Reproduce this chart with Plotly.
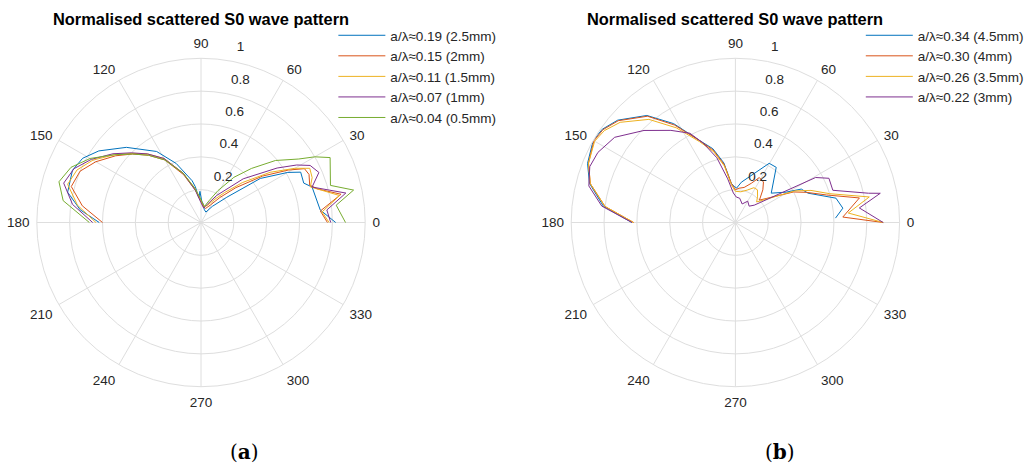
import plotly.graph_objects as go

# ---------------- data ----------------
COLORS = ["#0072BD", "#D95319", "#EDB120", "#7E2F8E", "#77AC30"]
TITLE = "Normalised scattered S0 wave pattern"
ANG_TICKS = list(range(0, 360, 30))
R_TICKS = [0.2, 0.4, 0.6, 0.8, 1]
R_TICK_TEXT = ["0.2", "0.4", "0.6", "0.8", "1"]

# panel (a)
labels_a = ["a/λ≈0.19 (2.5mm)", "a/λ≈0.15 (2mm)", "a/λ≈0.11 (1.5mm)",
            "a/λ≈0.07 (1mm)", "a/λ≈0.04 (0.5mm)"]

a019_theta = [0, 6, 17.7, 21, 26.8, 30, 36.6, 44.4, 55, 65, 75, 85, 88, 92, 95, 99,
              102, 112.8, 122, 134.8, 145, 151.5, 157.9, 167.2, 174, 180]
a019_r = [0.82, 0.73, 0.71, 0.67, 0.68, 0.61, 0.45, 0.22, 0.12, 0.07, 0.08, 0.12, 0.13, 0.19, 0.15, 0.22,
          0.26, 0.39, 0.51, 0.645, 0.76, 0.82, 0.845, 0.833, 0.74, 0.62]

a015_theta = [0, 5.5, 11.4, 16, 19, 24, 27.5, 31, 37, 45, 53, 62, 72, 82, 92, 100,
              110, 120, 128, 135, 142, 150, 157, 164.5, 172, 180]
a015_r = [0.77, 0.73, 0.87, 0.74, 0.70, 0.72, 0.71, 0.62, 0.47, 0.30, 0.19, 0.12, 0.09, 0.10, 0.14, 0.20,
          0.31, 0.44, 0.52, 0.59, 0.66, 0.74, 0.80, 0.82, 0.73, 0.60]

a011_theta = [0, 5, 11, 15, 18, 22, 26.5, 30, 36, 44, 52, 60, 70, 80, 90, 100,
              110, 120, 128, 135, 142, 150, 157, 164, 172, 180]
a011_r = [0.78, 0.74, 0.86, 0.76, 0.70, 0.73, 0.74, 0.66, 0.52, 0.35, 0.23, 0.16, 0.11, 0.10, 0.13, 0.21,
          0.32, 0.45, 0.53, 0.595, 0.67, 0.76, 0.82, 0.845, 0.76, 0.64]

a007_theta = [0, 5.7, 11.5, 17.7, 23, 27.6, 31, 35.6, 46, 60, 70, 80, 90, 100,
              110, 120, 128, 135, 142, 150, 157, 164, 172, 180]
a007_r = [0.79, 0.77, 0.90, 0.71, 0.78, 0.75, 0.68, 0.57, 0.37, 0.19, 0.12, 0.09, 0.12, 0.20,
          0.32, 0.45, 0.53, 0.60, 0.68, 0.77, 0.84, 0.87, 0.79, 0.66]

a004_theta = [0, 7.3, 12, 16, 26.7, 30, 33, 39.8, 47, 54, 62, 70, 78, 86, 92, 100,
              110, 120, 128, 135, 142, 150, 157, 164, 171, 180]
a004_r = [0.88, 0.83, 0.95, 0.82, 0.88, 0.80, 0.71, 0.59, 0.45, 0.34, 0.22, 0.14, 0.10, 0.12, 0.15, 0.21,
          0.32, 0.44, 0.52, 0.59, 0.67, 0.78, 0.86, 0.90, 0.85, 0.68]

# panel (b)
labels_b = ["a/λ≈0.34 (4.5mm)", "a/λ≈0.30 (4mm)", "a/λ≈0.26 (3.5mm)", "a/λ≈0.22 (3mm)"]

b034_theta = [2.5, 7.6, 13.6, 22, 26.9, 30.9, 39.3, 53.5, 60.3, 81.6, 88, 92, 96, 101,
              107, 113.6, 122, 129.6, 139, 145, 150, 158.2, 165, 173, 180]
b034_r = [0.61, 0.66, 0.63, 0.477, 0.45, 0.36, 0.282, 0.418, 0.415, 0.248, 0.21, 0.22, 0.24, 0.37,
          0.47, 0.545, 0.71, 0.846, 0.95, 0.99, 1.0, 0.97, 0.92, 0.81, 0.63]

b030_theta = [0, 2.9, 11.2, 16.8, 23, 27.7, 43, 50, 55.3, 62, 67.9, 76, 84, 90, 96, 101,
              107, 114, 122, 129.6, 139, 145, 150, 158, 165, 173, 180]
b030_r = [0.90, 0.655, 0.77, 0.58, 0.47, 0.40, 0.20, 0.26, 0.30, 0.31, 0.258, 0.22, 0.21, 0.20, 0.24, 0.36,
          0.46, 0.55, 0.70, 0.84, 0.945, 0.985, 0.995, 0.965, 0.915, 0.80, 0.62]

b026_theta = [0, 4.8, 10.8, 17, 23, 28, 44, 50, 56, 62, 70, 80, 90, 96, 101,
              107, 114, 122, 130, 139, 145, 150, 158, 165, 173, 180]
b026_r = [0.90, 0.69, 0.83, 0.60, 0.50, 0.41, 0.18, 0.21, 0.24, 0.24, 0.21, 0.19, 0.19, 0.23, 0.35,
          0.45, 0.54, 0.68, 0.82, 0.93, 0.975, 0.99, 0.965, 0.915, 0.80, 0.62]

b022_theta = [0, 6.7, 11.4, 12.4, 18.3, 25.3, 29.3, 42.6, 50, 60, 70, 80, 88, 94, 100,
              106, 112, 117, 125, 134.8, 144.8, 153, 159, 166, 173, 180]
b022_r = [0.90, 0.76, 0.90, 0.83, 0.625, 0.63, 0.56, 0.156, 0.13, 0.15, 0.12, 0.15, 0.155, 0.18, 0.27,
          0.41, 0.52, 0.61, 0.685, 0.79, 0.90, 0.94, 0.95, 0.92, 0.82, 0.63]

series_a = [(a019_theta, a019_r), (a015_theta, a015_r), (a011_theta, a011_r),
            (a007_theta, a007_r), (a004_theta, a004_r)]
series_b = [(b034_theta, b034_r), (b030_theta, b030_r), (b026_theta, b026_r),
            (b022_theta, b022_r)]

# ---------------- figure ----------------
W, H = 1029, 466
FONT = "Liberation Sans, Arial, Helvetica, sans-serif"
GRID = "#dedede"
TXT = "#262626"

fig = go.Figure()
for (th, r), name, col in zip(series_a, labels_a, COLORS):
    fig.add_trace(go.Scatterpolar(theta=th, r=r, mode="lines", name=name,
                                  line=dict(color=col, width=1),
                                  subplot="polar", legend="legend"))
for (th, r), name, col in zip(series_b, labels_b, COLORS):
    fig.add_trace(go.Scatterpolar(theta=th, r=r, mode="lines", name=name,
                                  line=dict(color=col, width=1),
                                  subplot="polar2", legend="legend2"))

# radial labels sit just above their ring (MATLAB style): pad with blank lines
r_tick_text_raised = [t + "<br> <br> " for t in R_TICK_TEXT]


def polar_style(cx, cy, rad):
    return dict(
        domain=dict(x=[(cx - rad) / W, (cx + rad) / W],
                    y=[(H - cy - rad) / H, (H - cy + rad) / H]),
        bgcolor="white",
        angularaxis=dict(rotation=0, direction="counterclockwise",
                         tickvals=ANG_TICKS, ticktext=[str(v) for v in ANG_TICKS],
                         showgrid=True, gridcolor=GRID, gridwidth=1,
                         showline=True, linecolor=GRID, linewidth=1,
                         ticks="outside", ticklen=4, tickcolor="rgba(0,0,0,0)",
                         tickfont=dict(size=13.5, color=TXT, family=FONT)),
        radialaxis=dict(range=[0, 1], tickvals=R_TICKS, ticktext=r_tick_text_raised,
                        angle=80, tickangle=80, side="clockwise",
                        showline=False, ticks="",
                        showgrid=True, gridcolor=GRID, gridwidth=1,
                        tickfont=dict(size=13.5, color=TXT, family=FONT)),
    )


leg_common = dict(xanchor="left", yanchor="top", bgcolor="rgba(0,0,0,0)",
                  borderwidth=0, font=dict(size=13.5, color=TXT, family=FONT),
                  itemwidth=47, tracegroupgap=0)

fig.update_layout(
    width=W, height=H,
    margin=dict(l=0, r=0, t=0, b=0),
    paper_bgcolor="white",
    font=dict(family=FONT, color=TXT),
    polar=polar_style(202, 222.5, 165),
    polar2=polar_style(739, 222.5, 165),
    legend=dict(x=335 / W, y=1 - 20 / H, **leg_common),
    legend2=dict(x=865 / W, y=1 - 20 / H, **leg_common),
    annotations=[
        dict(text=TITLE, x=202 / W, y=1 - 19 / H, xref="paper", yref="paper",
             showarrow=False, xanchor="center", yanchor="middle",
             font=dict(size=16.4, family=FONT, color="#000000", weight="bold")),
        dict(text=TITLE, x=739 / W, y=1 - 19 / H, xref="paper", yref="paper",
             showarrow=False, xanchor="center", yanchor="middle",
             font=dict(size=16.4, family=FONT, color="#000000", weight="bold")),
        dict(text="(<b>a</b>)", x=246 / W, y=1 - 452 / H, xref="paper", yref="paper",
             showarrow=False, xanchor="center", yanchor="middle",
             font=dict(size=20, family="DejaVu Serif, serif", color="#000000")),
        dict(text="(<b>b</b>)", x=784 / W, y=1 - 452 / H, xref="paper", yref="paper",
             showarrow=False, xanchor="center", yanchor="middle",
             font=dict(size=20, family="DejaVu Serif, serif", color="#000000")),
    ],
)

fig.write_html("out.html")
